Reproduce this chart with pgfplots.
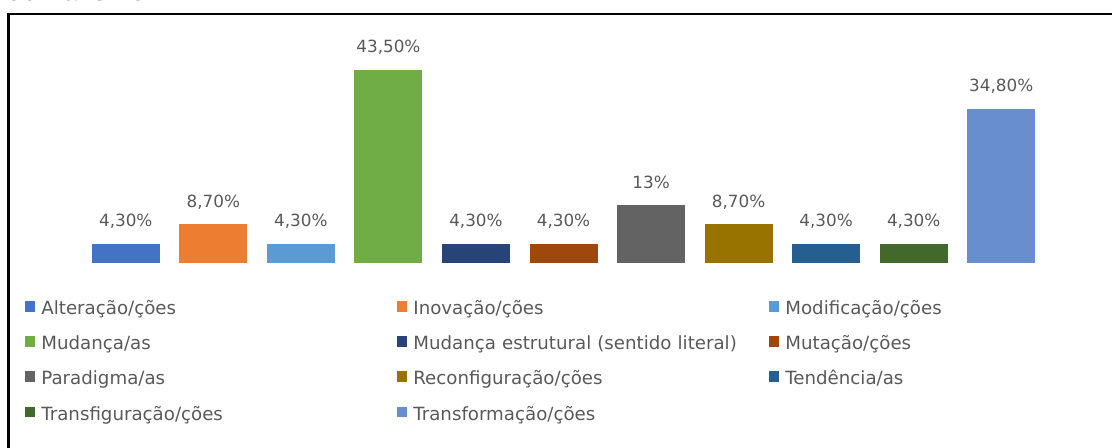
\documentclass[border=0pt]{standalone}
\usepackage{pgfplots}
\pgfplotsset{compat=1.18}
\usepackage{fontspec}
\setmainfont{DejaVu Sans}
\newfontfamily\titlefont{Liberation Sans}
\definecolor{c1}{HTML}{4472C4}
\definecolor{c2}{HTML}{ED7D31}
\definecolor{c3}{HTML}{5B9BD5}
\definecolor{c4}{HTML}{70AD47}
\definecolor{c5}{HTML}{264478}
\definecolor{c6}{HTML}{9E480E}
\definecolor{c7}{HTML}{636363}
\definecolor{c8}{HTML}{997300}
\definecolor{c9}{HTML}{255E91}
\definecolor{c10}{HTML}{43682B}
\definecolor{c11}{HTML}{698ED0}
\definecolor{txt}{HTML}{595959}
\begin{document}
\begin{tikzpicture}
\begin{axis}[
  at={(41pt,-131.5pt)}, anchor=south west,
  scale only axis, width=481.5pt, height=110.925pt,
  xmin=-0.5, xmax=10.5, ymin=0, ymax=50,
  hide axis, clip=false,
  ybar, bar width=34pt, bar shift=0pt,
  point meta=explicit symbolic,
  nodes near coords,
  every node near coord/.append style={anchor=base, yshift=8.5pt, font=\fontsize{8.4}{10}\selectfont, text=txt, inner sep=0pt},
  legend columns=3,
  legend image code/.code={\fill[#1] (0pt,-1.1pt) rectangle (5pt,4.2pt);},
  legend style={at={(-0.0592,-0.1668)}, anchor=north west, draw=none, fill=none, inner sep=0pt, row sep=8.6pt, column sep=0pt,
    font=\fontsize{9.1}{11}\selectfont,
    nodes={inner xsep=3pt, inner ysep=0pt, text width=175pt, align=left, text height=7pt, text depth=2pt, text=txt, font=\fontsize{9.1}{11}\selectfont}},
]
\addplot[fill=c1, draw=none] coordinates {(0,4.3) [4,30\%]};
\addlegendentry{Alteração/ções}
\addplot[fill=c2, draw=none] coordinates {(1,8.7) [8,70\%]};
\addlegendentry{Inovação/ções}
\addplot[fill=c3, draw=none] coordinates {(2,4.3) [4,30\%]};
\addlegendentry{Modificação/ções}
\addplot[fill=c4, draw=none] coordinates {(3,43.5) [43,50\%]};
\addlegendentry{Mudança/as}
\addplot[fill=c5, draw=none] coordinates {(4,4.3) [4,30\%]};
\addlegendentry{Mudança estrutural (sentido literal)}
\addplot[fill=c6, draw=none] coordinates {(5,4.3) [4,30\%]};
\addlegendentry{Mutação/ções}
\addplot[fill=c7, draw=none] coordinates {(6,13) [13\%]};
\addlegendentry{Paradigma/as}
\addplot[fill=c8, draw=none] coordinates {(7,8.7) [8,70\%]};
\addlegendentry{Reconfiguração/ções}
\addplot[fill=c9, draw=none] coordinates {(8,4.3) [4,30\%]};
\addlegendentry{Tendência/as}
\addplot[fill=c10, draw=none] coordinates {(9,4.3) [4,30\%]};
\addlegendentry{Transfiguração/ções}
\addplot[fill=c11, draw=none] coordinates {(10,34.8) [34,80\%]};
\addlegendentry{Transformação/ções}
\end{axis}
\draw[line width=1.4pt, black] (4.15pt,-240pt) -- (4.15pt,-7pt) -- (570pt,-7pt);
\node[anchor=base west, inner sep=0pt, font=\titlefont\bfseries\fontsize{13}{15}\selectfont] at (3.5pt,-0.2pt) {Jornalismo};
\pgfresetboundingbox
\path[use as bounding box] (0pt,0pt) rectangle (556pt,-224pt);
\end{tikzpicture}
\end{document}
